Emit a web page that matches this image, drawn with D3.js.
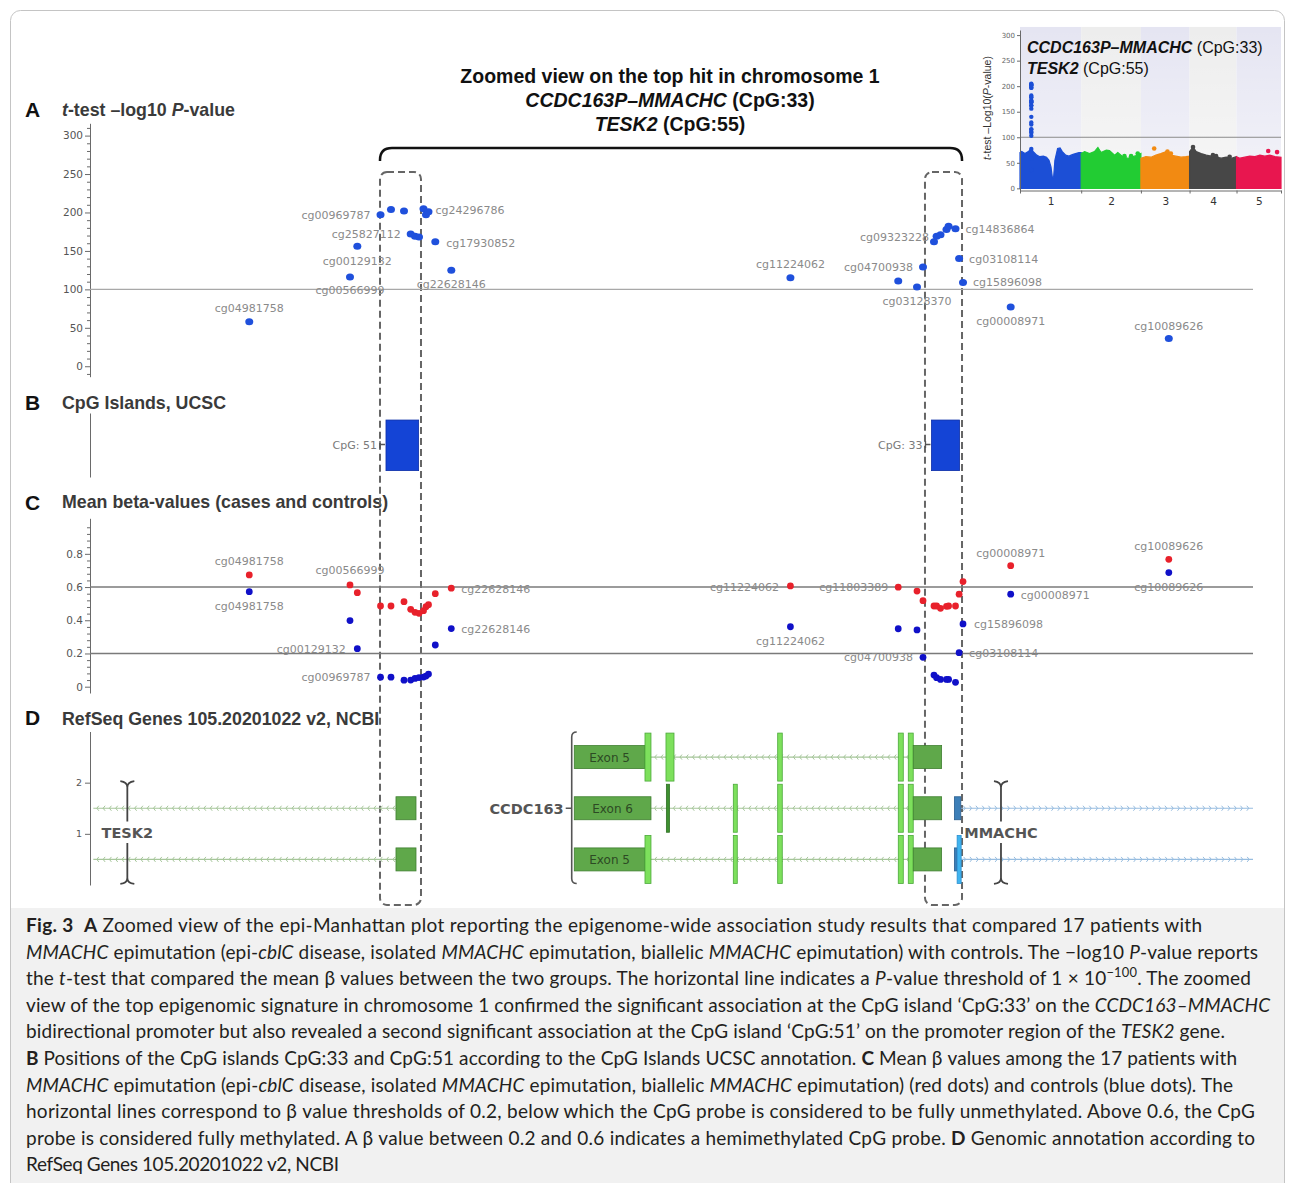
<!DOCTYPE html>
<html><head><meta charset="utf-8">
<script src="https://cdn.jsdelivr.net/npm/d3@7"></script>
<style>body{margin:0;background:#fff} svg{display:block} text{white-space:pre}</style>
</head><body>
<svg id="c" width="1295" height="1183"></svg>
<script>
// ---------------- DATA ----------------
// CpG probes in the zoomed region (positions in kb from the left edge of the window)
const probeNames = ["cg04981758","cg00566999","cg00129132","cg00969787","","","cg25827112","","","cg24296786","","","cg17930852","cg22628146","cg11224062","cg11803389","cg03128370","cg04700938","cg09323228","","","","","cg14836864","cg03108114","cg15896098","cg00008971","cg10089626"];
const probePos = [2.739,4.471,4.597,4.996,5.176,5.400,5.515,5.589,5.658,5.735,5.778,5.821,5.938,6.213,12.045,13.899,14.222,14.325,14.514,14.559,14.626,14.729,14.765,14.884,14.946,15.013,15.833,18.552];
const pvalLog = [58,116,156,197,204,202,172,169,168,205,197,201,162,125,115,111,103,129,162,169,171,178,182,179,140,109,77,36];
const betaCases = [0.673,0.613,0.566,0.486,0.486,0.512,0.466,0.448,0.442,0.458,0.482,0.494,0.560,0.593,0.607,0.599,0.576,0.518,0.486,0.486,0.472,0.484,0.486,0.486,0.557,0.633,0.729,0.767];
const betaControls = [0.572,0.398,0.229,0.057,0.057,0.039,0.040,0.050,0.055,0.058,0.064,0.076,0.251,0.350,0.361,0.349,0.342,0.177,0.070,0.054,0.044,0.044,0.044,0.026,0.205,0.378,0.557,0.687];
const pThreshold = 100;
const betaThresholds = [0.2, 0.6];
const yTicksA = [0,50,100,150,200,250,300];
const yTicksC = [0,0.2,0.4,0.6,0.8];
const yTicksD = [1,2];

// CpG islands
const cpgNames = ["CpG: 51","CpG: 33"];
const cpgStart = [5.090,14.471];
const cpgEnd = [5.651,14.954];
// highlighted windows (dashed boxes)
const hlStart = [4.987,14.359];
const hlEnd = [5.692,14.996];

// RefSeq transcripts
const txGene = ["TESK2","TESK2","CCDC163","CCDC163","CCDC163","MMACHC","MMACHC"];
const txRow = [1.5,0.5,2.5,1.5,0.5,1.5,0.5];
const txStrand = ["-","-","-","-","-","+","+"];
const txStart = [0.057,0.057,9.544,9.647,9.544,14.975,14.981];
const txEnd = [5.262,5.262,14.157,14.157,14.157,20,20];
const exTx =    [0,1, 2,2,2,2,2,2,2, 3,3,3,3,3,3,3, 4,4,4,4,4,4,4, 5, 6,6];
const exStart = [5.262,5.262, 8.328,9.544,9.905,11.826,13.900,14.072,14.157, 8.328,9.912,11.063,11.826,13.900,14.072,14.157, 8.328,9.544,11.063,11.826,13.900,14.072,14.157, 14.865, 14.865,14.912];
const exEnd =   [5.606,5.606, 9.544,9.647,10.043,11.905,13.986,14.157,14.645, 9.647,9.965,11.131,11.905,13.986,14.157,14.645, 9.544,9.647,11.131,11.905,13.986,14.157,14.645, 14.975, 14.912,14.981];
const exType =  ["utr","utr", "utr","cds","cds","cds","cds","cds","utr", "utr","cdsDark","cds","cds","cds","cds","utr", "utr","cds","cds","cds","cds","cds","utr", "utrB", "utrB","cdsB"];
const exLabel = ["","", "Exon 5","","","","","","", "Exon 6","","","","","","", "Exon 5","","","","","","", "", "",""];
const geneLabelPos = {TESK2:0.642, MMACHC:15.666, CCDC163:8.284};

// Inset Manhattan plot (chromosomes 1-5, Mb)
const chromNames = ["1","2","3","4","5"];
const chromLen = [249,243,198,191,181];
const chromColors = ["#1c4fd6","#22cc33","#f28a12","#474747","#e8164f"];
const envChr1 = [[0,70],[7,72],[20,68],[34,72],[45,78],[54,72],[68,65],[81,62],[95,63],[108,61],[118,55],[126,42],[132,20],[137,23],[142,55],[153,78],[163,79],[172,72],[186,65],[199,63],[213,66],[226,68],[240,70],[249,70]];
const envChr2 = [[0,68],[14,72],[34,68],[54,72],[68,80],[81,70],[102,75],[115,74],[136,65],[149,70],[169,62],[190,59],[210,62],[231,65],[243,68]];
const envChr3 = [[0,59],[20,62],[41,61],[61,65],[81,68],[102,72],[122,65],[142,63],[163,61],[183,62],[198,63]];
const envChr4 = [[0,72],[14,81],[27,72],[47,68],[68,65],[88,63],[108,61],[129,59],[149,61],[170,59],[191,62]];
const envChr5 = [[0,62],[14,59],[34,61],[54,63],[75,62],[95,65],[115,63],[136,65],[156,62],[181,61]];
const extraHitChrom = [2,2,2,3,3,3,4,4,4,4,5,5];
const extraHitPos = [176,203,230,54,108,122,14,95,108,163,129,165];
const extraHitVal = [63,63,68,78,72,68,81,65,63,62,73,71];
const topHitPosMb = 45.97; // chr1, MMACHC

// ---------------- LAYOUT ----------------
const svg = d3.select("#c");
const FONT = "DejaVu Sans";
const TFONT = "Liberation Sans";

svg.append("rect").attr("x",10.5).attr("y",10.5).attr("width",1274).attr("height",1200).attr("rx",10)
  .attr("fill","#fff").attr("stroke","#c4c4c4");
svg.append("rect").attr("x",11).attr("y",908).attr("width",1273).attr("height",275).attr("fill","#f1f1f1");

const x = d3.scaleLinear().domain([0,20]).range([90,1253]);
const yA = d3.scaleLinear().domain([-13.6,316]).range([376.7,123.3]);
const yB = d3.scaleLinear().domain([0,1]).range([477,413]);
const yC = d3.scaleLinear().domain([-0.038,1.014]).range([693,518.3]);
const yD = d3.scaleLinear().domain([0,3]).range([885,731.5]);

function rich(t, parts){
  parts.forEach(p=>{
    const s = t.append("tspan").text(p[0]);
    const f = p[1]||"";
    if(f.includes("b")) s.attr("font-weight","bold");
    if(f.includes("i")) s.attr("font-style","italic");
    if(f.includes("^")) s.attr("baseline-shift","super").attr("font-size","0.68em");
  });
  return t;
}
function styleAxis(g, fs){
  g.attr("font-family",FONT).attr("font-size",fs);
  g.selectAll("path,line").attr("stroke","#6a6a6a");
  g.selectAll("text").attr("fill","#555");
}

// ---- title, brace ----
const title = svg.append("g").attr("font-family",TFONT).attr("font-weight","bold").attr("font-size",19.5).attr("text-anchor","middle").attr("fill","#111");
title.append("text").attr("x",670).attr("y",83).text("Zoomed view on the top hit in chromosome 1");
rich(title.append("text").attr("x",670).attr("y",107),[["CCDC163P–MMACHC","i"],[" (CpG:33)"]]);
rich(title.append("text").attr("x",670).attr("y",131),[["TESK2","i"],[" (CpG:55)"]]);
svg.append("path").attr("d",`M${x(hlStart[0])},161 L${x(hlStart[0])},160 Q${x(hlStart[0])},148 ${x(hlStart[0])+12},148 L${x(hlEnd[1])-12},148 Q${x(hlEnd[1])},148 ${x(hlEnd[1])},160 L${x(hlEnd[1])},161`)
  .attr("fill","none").attr("stroke","#111").attr("stroke-width",2.5);

// ---- panel letters and titles ----
const letters = [["A",117],["B",410],["C",510],["D",725]];
letters.forEach(l=>svg.append("text").attr("x",25).attr("y",l[1]).attr("font-family",TFONT).attr("font-weight","bold").attr("font-size",21).attr("fill","#111").text(l[0]));
const ptitle = (y, parts)=> rich(svg.append("text").attr("x",62).attr("y",y).attr("font-family",TFONT).attr("font-weight","bold").attr("font-size",17.8).attr("fill","#3a3a3a"), parts);
ptitle(116,[["t","i"],["-test –log10 "],["P","i"],["-value"]]);
ptitle(409,[["CpG Islands, UCSC"]]);
ptitle(508,[["Mean beta-values (cases and controls)"]]);
ptitle(725,[["RefSeq Genes 105.20201022 v2, NCBI"]]);

// ---- dashed highlight boxes ----
hlStart.forEach((s,i)=>{
  svg.append("rect").attr("x",x(s)).attr("y",172).attr("width",x(hlEnd[i])-x(s)).attr("height",733).attr("rx",7)
    .attr("fill","none").attr("stroke","#666").attr("stroke-width",2).attr("stroke-dasharray","7,4");
});

// ---- Panel A ----
const axA = svg.append("g").attr("transform","translate(90,0)").call(d3.axisLeft(yA).tickValues(yTicksA).tickSize(5).tickPadding(2).tickSizeOuter(0));
styleAxis(axA,10.5);
const minorA = d3.range(-10,316,10).filter(v=>v%50!==0);
const axAm = svg.append("g").attr("transform","translate(90,0)").call(d3.axisLeft(yA).tickValues(minorA).tickSize(3).tickFormat(""));
axAm.select(".domain").remove(); styleAxis(axAm,10);
svg.append("line").attr("x1",x(0)).attr("x2",x(20)).attr("y1",yA(pThreshold)).attr("y2",yA(pThreshold)).attr("stroke","#a8a8a8").attr("stroke-width",1.2);
const idx = d3.range(probePos.length);
svg.append("g").selectAll("ellipse").data(idx).join("ellipse")
  .attr("cx",i=>x(probePos[i])).attr("cy",i=>yA(pvalLog[i])).attr("rx",4).attr("ry",3.5).attr("fill","#1f50dc");

const byName = n => probeNames.indexOf(n);
const labA = [
 ["cg04981758","middle",0,-10],["cg00566999","middle",0,17],["cg00129132","middle",0,19],["cg00969787","end",-10,4],
 ["cg25827112","end",-10,4],["cg24296786","start",12,5],["cg17930852","start",11,5],["cg22628146","middle",0,18],
 ["cg11224062","middle",0,-10],["cg03128370","middle",0,18],["cg04700938","end",-10,4],["cg09323228","end",-5,-1],
 ["cg14836864","start",10,4],["cg03108114","start",10,4.5],["cg15896098","start",10,4],["cg00008971","middle",0,18],["cg10089626","middle",0,-9]
];
const lgA = svg.append("g").attr("font-family",FONT).attr("font-size",11).attr("fill","#8a8a8a");
labA.forEach(l=>{const i=byName(l[0]); lgA.append("text").attr("x",x(probePos[i])+l[2]).attr("y",yA(pvalLog[i])+l[3]).attr("text-anchor",l[1]).text(l[0]);});

// ---- Panel B ----
const axB = svg.append("g").attr("transform","translate(90,0)").call(d3.axisLeft(yB).tickValues([]).tickSizeOuter(0));
styleAxis(axB,10);
cpgStart.forEach((s,i)=>{
  svg.append("rect").attr("x",x(s)).attr("y",yB(0.89)).attr("width",x(cpgEnd[i])-x(s)).attr("height",yB(0.1)-yB(0.89))
    .attr("fill","#1444d6").attr("stroke","#0d2fa8").attr("stroke-width",0.8);
  const ly = 449;
  svg.append("text").attr("x",x(s)-9).attr("y",ly).attr("text-anchor","end").attr("font-family",FONT).attr("font-size",11).attr("fill","#7a7a7a").text(cpgNames[i]);
  svg.append("path").attr("d",`M${x(s)-6},${ly-8} L${x(s)-6},${ly-1} M${x(s)-6},${ly-4.5} L${x(s)-1},${ly-4.5}`).attr("stroke","#555").attr("stroke-width",1.3);
});

// ---- Panel C ----
const axC = svg.append("g").attr("transform","translate(90,0)").call(d3.axisLeft(yC).tickValues(yTicksC).tickSize(5).tickPadding(2).tickSizeOuter(0).tickFormat(d=>d===0?"0":d3.format(".1f")(d)));
styleAxis(axC,10.5);
const minorC = d3.range(0.04,1.01,0.04).filter(v=>Math.abs(v/0.2-Math.round(v/0.2))>0.01);
const axCm = svg.append("g").attr("transform","translate(90,0)").call(d3.axisLeft(yC).tickValues(minorC).tickSize(3).tickFormat(""));
axCm.select(".domain").remove(); styleAxis(axCm,10);
betaThresholds.forEach(b=>svg.append("line").attr("x1",x(0)).attr("x2",x(20)).attr("y1",yC(b)).attr("y2",yC(b)).attr("stroke","#7a7a7a").attr("stroke-width",1.6));
svg.append("g").selectAll("circle").data(idx).join("circle")
  .attr("cx",i=>x(probePos[i])).attr("cy",i=>yC(betaCases[i])).attr("r",3.4).attr("fill","#e8212b");
svg.append("g").selectAll("circle").data(idx).join("circle")
  .attr("cx",i=>x(probePos[i])).attr("cy",i=>yC(betaControls[i])).attr("r",3.4).attr("fill","#1010c8");
const labC = [
 ["cg04981758","case","middle",0,-10],["cg04981758","ctrl","middle",0,18],["cg00566999","case","middle",0,-11],
 ["cg00129132","ctrl","end",-11.6,4.6],["cg00969787","ctrl","end",-10,4],["cg22628146","case","start",10,5],["cg22628146","ctrl","start",10,4],
 ["cg11224062","case","end",-11.5,5],["cg11224062","ctrl","middle",0,18],["cg11803389","case","end",-10,4],
 ["cg00008971","case","middle",0,-9],["cg00008971","ctrl","start",10,5],["cg10089626","case","middle",0,-9],["cg10089626","ctrl","middle",0,18],
 ["cg15896098","ctrl","start",11,4],["cg04700938","ctrl","end",-10,4],["cg03108114","ctrl","start",10,4]
];
const lgC = svg.append("g").attr("font-family",FONT).attr("font-size",11).attr("fill","#8a8a8a");
labC.forEach(l=>{const i=byName(l[0]); const v = l[1]==="case"?betaCases[i]:betaControls[i];
  lgC.append("text").attr("x",x(probePos[i])+l[3]).attr("y",yC(v)+l[4]).attr("text-anchor",l[2]).text(l[0]);});

// ---- Panel D ----
const axD = svg.append("g").attr("transform","translate(90,0)").call(d3.axisLeft(yD).tickValues(yTicksD).tickSize(5).tickPadding(3).tickSizeOuter(0).tickFormat(d3.format("d")));
styleAxis(axD,9.5);
const gD = svg.append("g");
txGene.forEach((g,t)=>{
  const y = yD(txRow[t]);
  const col = txStrand[t]==="+" ? "#97bde0" : "#a6c69a";
  gD.append("line").attr("x1",x(txStart[t])).attr("x2",x(txEnd[t])).attr("y1",y).attr("y2",y).attr("stroke",col).attr("stroke-width",1.2);
  let d = "";
  for(let px=x(txStart[t])+4; px<x(txEnd[t])-2; px+=6.3){
    d += txStrand[t]==="+" ? `M${px-1.5},${y-2.5} L${px+0.5},${y} L${px-1.5},${y+2.5} ` : `M${px+1.5},${y-2.5} L${px-0.5},${y} L${px+1.5},${y+2.5} `;
  }
  gD.append("path").attr("d",d).attr("fill","none").attr("stroke",col).attr("stroke-width",1);
});
const exStyle = {utr:["#5fa84a","#3f7f30",23], cds:["#7de05c","#4ba93a",48], cdsDark:["#3e9030","#2f7024",48], utrB:["#3d7fb8","#2a5f90",23], cdsB:["#3fb4f0","#2a8fd0",48]};
exTx.forEach((t,k)=>{
  const st = exStyle[exType[k]]; const y = yD(txRow[t]);
  gD.append("rect").attr("x",x(exStart[k])).attr("y",y-st[2]/2).attr("width",x(exEnd[k])-x(exStart[k])).attr("height",st[2])
    .attr("fill",st[0]).attr("stroke",st[1]).attr("stroke-width",0.8);
  if(exLabel[k]) gD.append("text").attr("x",(x(exStart[k])+x(exEnd[k]))/2).attr("y",y+4.5).attr("text-anchor","middle")
    .attr("font-family",FONT).attr("font-size",12).attr("fill","#2d4a24").text(exLabel[k]);
});
// gene brackets and names
["TESK2","MMACHC"].forEach(g=>{
  const bx = x(geneLabelPos[g]); const y0 = yD(2.03), y1 = yD(0.02), gt = yD(1.24), gb = yD(0.82);
  gD.append("path").attr("d",`M${bx-7},${y0} Q${bx},${y0+1} ${bx},${y0+6} M${bx+7},${y0} Q${bx},${y0+1} ${bx},${y0+6} L${bx},${gt} M${bx},${gb} L${bx},${y1-6} Q${bx},${y1-1} ${bx-7},${y1} M${bx},${y1-6} Q${bx},${y1-1} ${bx+7},${y1}`)
    .attr("fill","none").attr("stroke","#444").attr("stroke-width",1.8);
  gD.append("text").attr("x",bx).attr("y",838).attr("text-anchor","middle").attr("font-family",FONT).attr("font-weight","bold").attr("font-size",14.5).attr("fill","#555").text(g);
});
{
  const bx = x(geneLabelPos.CCDC163); const y0 = yD(2.99), y1 = yD(0.03), ym = yD(1.5);
  gD.append("path").attr("d",`M${bx+5},${y0} Q${bx},${y0} ${bx},${y0+5} L${bx},${y1-5} Q${bx},${y1} ${bx+5},${y1} M${bx-6},${ym} L${bx},${ym}`)
    .attr("fill","none").attr("stroke","#555").attr("stroke-width",1.6);
  gD.append("text").attr("x",bx-8).attr("y",ym+6).attr("text-anchor","end").attr("font-family",FONT).attr("font-weight","bold").attr("font-size",14.5).attr("fill","#555").text("CCDC163");
}

// ---- Inset Manhattan ----
const offsets = chromLen.map((l,i)=>d3.sum(chromLen.slice(0,i)));
const xi = d3.scaleLinear().domain([0,d3.sum(chromLen)]).range([1020,1281]);
const yi = d3.scaleLinear().domain([-5,310]).range([190.9,30]);
const gi = svg.append("g");
chromLen.forEach((l,i)=>{
  gi.append("rect").attr("x",xi(offsets[i])).attr("y",yi(316)).attr("width",xi(offsets[i]+l)-xi(offsets[i])).attr("height",yi(0)-yi(316))
    .attr("fill", i%2===0 ? "#e5e5f2" : "#ededed");
});
const defs = svg.append("defs");
const lg = defs.append("linearGradient").attr("id","fade").attr("x1",0).attr("x2",0).attr("y1",0).attr("y2",1);
lg.append("stop").attr("offset","0%").attr("stop-color","#fff").attr("stop-opacity",0);
lg.append("stop").attr("offset","100%").attr("stop-color","#fff").attr("stop-opacity",0.55);
gi.append("rect").attr("x",xi(0)).attr("y",yi(316)).attr("width",xi(d3.sum(chromLen))-xi(0)).attr("height",yi(0)-yi(316)).attr("fill","url(#fade)");
gi.append("line").attr("x1",xi(0)).attr("x2",1281).attr("y1",yi(pThreshold)).attr("y2",yi(pThreshold)).attr("stroke","#8c8c8c").attr("stroke-width",1);
const envs = [envChr1,envChr2,envChr3,envChr4,envChr5];
const area = d3.area().x(d=>xi(d[0])).y0(yi(0)).y1(d=>yi(d[1]));
envs.forEach((e,i)=>{
  const pts = e.map(d=>[offsets[i]+d[0], d[1]]);
  gi.append("path").attr("d",area(pts)).attr("fill",chromColors[i]).attr("stroke",chromColors[i]).attr("stroke-width",1.2);
});
extraHitChrom.forEach((c,k)=>gi.append("circle").attr("cx",xi(offsets[c-1]+extraHitPos[k])).attr("cy",yi(extraHitVal[k])).attr("r",2.3).attr("fill",chromColors[c-1]));
pvalLog.forEach(v=>gi.append("circle").attr("cx",xi(topHitPosMb)).attr("cy",yi(v)).attr("r",2.2).attr("fill",chromColors[0]));
const axI = svg.append("g").attr("transform",`translate(${xi(0)},0)`).call(d3.axisLeft(yi).tickValues([0,50,100,150,200,250,300]).tickSize(3).tickPadding(2).tickSizeOuter(0));
styleAxis(axI,7); axI.selectAll("text").attr("fill","#666");
const axIx = svg.append("g").attr("transform","translate(0,190.5)").call(d3.axisBottom(xi).tickValues(offsets.concat([d3.sum(chromLen)])).tickSize(3).tickFormat("").tickSizeOuter(0));
styleAxis(axIx,10);
const axIl = svg.append("g").attr("transform","translate(0,193)").call(d3.axisBottom(xi).tickValues(chromLen.map((l,i)=>offsets[i]+l/2)).tickSize(0).tickPadding(5).tickFormat((d,i)=>chromNames[i]));
axIl.select(".domain").remove(); styleAxis(axIl,10.5); axIl.selectAll("text").attr("fill","#333");
rich(svg.append("text").attr("transform","translate(991,108) rotate(-90)").attr("text-anchor","middle").attr("font-family",TFONT).attr("font-size",10.5).attr("fill","#333"),
  [["t","i"],["-test –Log10("],["P","i"],["-value)"]]);
const it = svg.append("g").attr("font-family",TFONT).attr("font-size",16).attr("fill","#111");
rich(it.append("text").attr("x",1027).attr("y",53),[["CCDC163P–MMACHC","bi"],[" (CpG:33)"]]);
rich(it.append("text").attr("x",1027).attr("y",74),[["TESK2","bi"],[" (CpG:55)"]]);

// ---- Caption ----
const captionLines = [
 [["Fig. 3","b"],["  "],["A","b"],[" Zoomed view of the epi-Manhattan plot reporting the epigenome-wide association study results that compared 17 patients with"]],
 [["MMACHC","i"],[" epimutation (epi-"],["cblC","i"],[" disease, isolated "],["MMACHC","i"],[" epimutation, biallelic "],["MMACHC","i"],[" epimutation) with controls. The −log10 "],["P","i"],["-value reports"]],
 [["the "],["t","i"],["-test that compared the mean β values between the two groups. The horizontal line indicates a "],["P","i"],["-value threshold of 1 × 10"],["−100","^"],[". The zoomed"]],
 [["view of the top epigenomic signature in chromosome 1 confirmed the significant association at the CpG island ‘CpG:33’ on the "],["CCDC163–MMACHC","i"]],
 [["bidirectional promoter but also revealed a second significant association at the CpG island ‘CpG:51’ on the promoter region of the "],["TESK2","i"],[" gene."]],
 [["B","b"],[" Positions of the CpG islands CpG:33 and CpG:51 according to the CpG Islands UCSC annotation. "],["C","b"],[" Mean β values among the 17 patients with"]],
 [["MMACHC","i"],[" epimutation (epi-"],["cblC","i"],[" disease, isolated "],["MMACHC","i"],[" epimutation, biallelic "],["MMACHC","i"],[" epimutation) (red dots) and controls (blue dots). The"]],
 [["horizontal lines correspond to β value thresholds of 0.2, below which the CpG probe is considered to be fully unmethylated. Above 0.6, the CpG"]],
 [["probe is considered fully methylated. A β value between 0.2 and 0.6 indicates a hemimethylated CpG probe. "],["D","b"],[" Genomic annotation according to"]],
 [["RefSeq Genes 105.20201022 v2, NCBI"]]
];
const captionEnds = [1202,1258,1251,1270,1225,1237,1233,1255,1255,339];
captionLines.forEach((parts,i)=>{
  const t = svg.append("text").attr("x",26).attr("y",932+i*26.6).attr("font-family","Lato").attr("font-size",19).attr("fill","#231f20")
    .attr("textLength",captionEnds[i]-26).attr("lengthAdjust","spacing");
  rich(t,parts);
});
</script>
</body></html>
